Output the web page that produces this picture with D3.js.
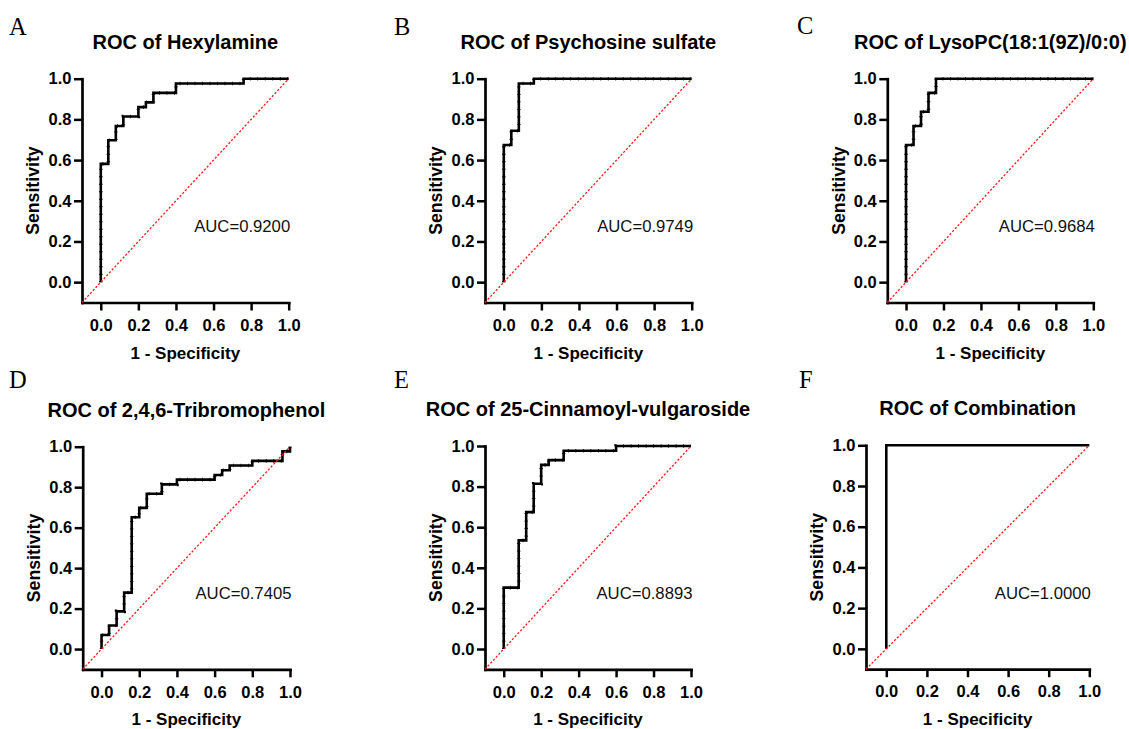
<!DOCTYPE html>
<html>
<head>
<meta charset="utf-8">
<script src="https://cdn.jsdelivr.net/npm/d3@7"></script>
<style>
  body { margin: 0; background: #fff; }
  svg { display: block; }
</style>
</head>
<body>
<svg id="chart" width="1129" height="729"></svg>
<script>
// ROC step vertices: 1 - specificity (fpr) and sensitivity (tpr)
const hexylamineFpr      = [0, 0, 0.04, 0.08, 0.12, 0.20, 0.24, 0.28, 0.40, 0.76, 1.00];
const hexylamineTpr      = [0, 0.5814, 0.6977, 0.7674, 0.8140, 0.8605, 0.8837, 0.9302, 0.9767, 1.0000, 1.0000];

const psychosineFpr      = [0, 0, 0.04, 0.08, 0.16, 1.00];
const psychosineTpr      = [0, 0.6744, 0.7442, 0.9767, 1.0000, 1.0000];

const lysoPCFpr          = [0, 0, 0.04, 0.08, 0.12, 0.16, 1.00];
const lysoPCTpr          = [0, 0.6744, 0.7674, 0.8372, 0.9302, 1.0000, 1.0000];

const tribromophenolFpr  = [0, 0, 0.04, 0.08, 0.12, 0.16, 0.20, 0.24, 0.32, 0.40, 0.60, 0.64, 0.68, 0.80, 0.96, 1.00];
const tribromophenolTpr  = [0, 0.0698, 0.1163, 0.1860, 0.2791, 0.6512, 0.6977, 0.7674, 0.8140, 0.8372, 0.8605, 0.8837, 0.9070, 0.9302, 0.9767, 1.0000];

const cinnamoylFpr       = [0, 0, 0.08, 0.12, 0.16, 0.20, 0.24, 0.32, 0.60, 1.00];
const cinnamoylTpr       = [0, 0.3023, 0.5349, 0.6744, 0.8140, 0.9070, 0.9302, 0.9767, 1.0000, 1.0000];

const combinationFpr     = [0, 0, 1.00];
const combinationTpr     = [0, 1.0000, 1.0000];

const panelLetters = ["A", "B", "C", "D", "E", "F"];
const panelTitles = [
  "ROC of Hexylamine",
  "ROC of Psychosine sulfate",
  "ROC of LysoPC(18:1(9Z)/0:0)",
  "ROC of 2,4,6-Tribromophenol",
  "ROC of 25-Cinnamoyl-vulgaroside",
  "ROC of Combination"
];
const aucValues = ["0.9200", "0.9749", "0.9684", "0.7405", "0.8893", "1.0000"];
const curveFpr = [hexylamineFpr, psychosineFpr, lysoPCFpr, tribromophenolFpr, cinnamoylFpr, combinationFpr];
const curveTpr = [hexylamineTpr, psychosineTpr, lysoPCTpr, tribromophenolTpr, cinnamoylTpr, combinationTpr];

const tickValues = [0, 0.2, 0.4, 0.6, 0.8, 1.0];
const axisDomain = [-0.1, 1.0];
const xAxisTitle = "1 - Specificity";
const yAxisTitle = "Sensitivity";

// Frame geometry of each small multiple (pixel box of the axis frame)
const frames = [
  { letterX: 9,   letterY: 35,  left: 82,    right: 288.7,  top: 78.7,  bottom: 302.5 },
  { letterX: 394, letterY: 35,  left: 485,   right: 691.7,  top: 78.7,  bottom: 302.5 },
  { letterX: 797, letterY: 34,  left: 887.3, right: 1093.3, top: 78.7,  bottom: 302.5 },
  { letterX: 9,   letterY: 388, left: 82.7,  right: 290,    top: 446.7, bottom: 669.3 },
  { letterX: 394, letterY: 388, left: 485,   right: 691,    top: 446,   bottom: 669.3 },
  { letterX: 799, letterY: 388, left: 866,   right: 1089.3, top: 445.3, bottom: 669.2 }
];

const SANS = "'Liberation Sans', Arial, Helvetica, sans-serif";
const SERIF = "'Liberation Serif', 'Times New Roman', Times, serif";

const svg = d3.select("#chart");
const fmt = d3.format(".1f");

frames.forEach((f, i) => {
  const g = svg.append("g");

  const x = d3.scaleLinear().domain(axisDomain).range([f.left, f.right]);
  const y = d3.scaleLinear().domain(axisDomain).range([f.bottom, f.top]);

  // panel letter
  g.append("text")
    .attr("x", f.letterX).attr("y", f.letterY)
    .attr("font-family", SERIF).attr("font-size", 24.5)
    .attr("fill", "#000")
    .text(panelLetters[i]);

  // panel title
  g.append("text")
    .attr("x", (f.left + f.right) / 2).attr("y", f.top - 30)
    .attr("text-anchor", "middle")
    .attr("font-family", SANS).attr("font-weight", "bold").attr("font-size", 20)
    .attr("fill", "#000")
    .text(panelTitles[i]);

  // x axis
  const xAxis = d3.axisBottom(x).tickValues(tickValues).tickFormat(fmt)
    .tickSizeInner(8).tickSizeOuter(0).tickPadding(8.5);
  const gx = g.append("g").attr("transform", `translate(0,${f.bottom})`).call(xAxis);

  // y axis
  const yAxis = d3.axisLeft(y).tickValues(tickValues).tickFormat(fmt)
    .tickSizeInner(8).tickSizeOuter(0).tickPadding(2.5);
  const gy = g.append("g").attr("transform", `translate(${f.left},0)`).call(yAxis);

  [gx, gy].forEach(a => {
    a.select(".domain").attr("stroke", "#000").attr("stroke-width", 2.7)
      .attr("stroke-linecap", "square");
    a.selectAll(".tick line").attr("stroke", "#000").attr("stroke-width", 2.5);
    a.selectAll(".tick text")
      .attr("font-family", SANS).attr("font-weight", "bold").attr("font-size", 16.5)
      .attr("fill", "#000");
  });

  // axis titles
  g.append("text")
    .attr("x", (f.left + f.right) / 2).attr("y", f.bottom + 56)
    .attr("text-anchor", "middle")
    .attr("font-family", SANS).attr("font-weight", "bold").attr("font-size", 17)
    .attr("fill", "#000")
    .text(xAxisTitle);

  g.append("text")
    .attr("transform", `translate(${f.left - 49},${(f.top + f.bottom) / 2}) rotate(-90)`)
    .attr("text-anchor", "middle").attr("dy", "0.36em")
    .attr("font-family", SANS).attr("font-weight", "bold").attr("font-size", 17.7)
    .attr("fill", "#000")
    .text(yAxisTitle);

  // ROC curve
  const pts = curveFpr[i].map((v, k) => [v, curveTpr[i][k]]);
  const line = d3.line().x(d => x(d[0])).y(d => y(d[1])).curve(d3.curveStepAfter);

  g.append("path")
    .attr("d", line(pts))
    .attr("fill", "none").attr("stroke", "#000")
    .attr("stroke-width", 2.6).attr("stroke-linejoin", "miter");

  // threshold markers along the curve
  if (i < 5) {
    g.append("path")
      .attr("d", line(pts))
      .attr("fill", "none").attr("stroke", "#000")
      .attr("stroke-width", 3.6).attr("stroke-dasharray", "0.8 6.7");
  }

  // reference diagonal
  g.append("line")
    .attr("x1", x(axisDomain[0])).attr("y1", y(axisDomain[0]))
    .attr("x2", x(1)).attr("y2", y(1))
    .attr("stroke", "#ff1a1a").attr("stroke-width", 1.3)
    .attr("stroke-dasharray", "2.2 1.8");

  // AUC label
  g.append("text")
    .attr("x", x(1) + 1.5).attr("y", y(0.245))
    .attr("text-anchor", "end")
    .attr("font-family", SANS).attr("font-size", 16.7)
    .attr("fill", "#111")
    .text("AUC=" + aucValues[i]);
});
</script>
</body>
</html>
